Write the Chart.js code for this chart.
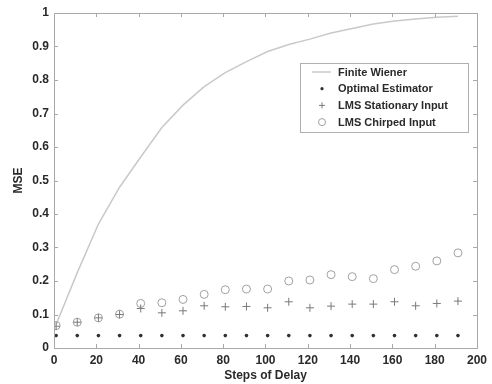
<!DOCTYPE html>
<html><head><meta charset="utf-8">
<script src="https://cdn.jsdelivr.net/npm/chart.js@4/dist/chart.umd.min.js"></script>
<style>html,body{margin:0;padding:0;background:#fff;}#wrap{width:492px;height:384px;}</style>
</head><body><div id="wrap"><canvas id="c" width="492" height="384"></canvas></div>
<script>
const delaySteps = [1, 11, 21, 31, 41, 51, 61, 71, 81, 91, 101, 111, 121, 131, 141, 151, 161, 171, 181, 191];
const finiteWiener = [0.07, 0.225, 0.37, 0.48, 0.57, 0.658, 0.725, 0.78, 0.822, 0.855, 0.885, 0.906, 0.922, 0.94, 0.954, 0.967, 0.976, 0.982, 0.987, 0.99];
const optimalEstimator = [0.037, 0.037, 0.037, 0.037, 0.037, 0.037, 0.037, 0.037, 0.037, 0.037, 0.037, 0.037, 0.037, 0.037, 0.037, 0.037, 0.037, 0.037, 0.037, 0.037];
const lmsStationary = [0.065, 0.077, 0.09, 0.1, 0.118, 0.105, 0.111, 0.126, 0.123, 0.124, 0.12, 0.138, 0.12, 0.125, 0.131, 0.131, 0.138, 0.126, 0.133, 0.14];
const lmsChirped = [0.067, 0.077, 0.09, 0.101, 0.133, 0.135, 0.145, 0.16, 0.174, 0.176, 0.176, 0.2, 0.203, 0.219, 0.213, 0.207, 0.234, 0.244, 0.26, 0.284];
const xTicks = [0, 20, 40, 60, 80, 100, 120, 140, 160, 180, 200];
const yTicks = [0, 0.1, 0.2, 0.3, 0.4, 0.5, 0.6, 0.7, 0.8, 0.9, 1];
const seriesNames = ['Finite Wiener', 'Optimal Estimator', 'LMS Stationary Input', 'LMS Chirped Input'];

const toPts = arr => delaySteps.map((x, i) => ({x: x, y: arr[i]}));
const FONT = 'Liberation Sans, Arial, sans-serif';
const frameColor = '#a8a8a8';

const boxPlugin = {
  id: 'box',
  afterDraw(chart) {
    const ctx = chart.ctx, a = chart.chartArea;
    const xs = chart.scales.x, ys = chart.scales.y;
    ctx.save();
    ctx.strokeStyle = frameColor;
    ctx.lineWidth = 1;
    ctx.strokeRect(Math.round(a.left) + 0.5, Math.round(a.top) + 0.5, Math.round(a.right - a.left), Math.round(a.bottom - a.top));
    ctx.beginPath();
    const tl = 4;
    xTicks.forEach(v => {
      const px = Math.round(xs.getPixelForValue(v)) + 0.5;
      ctx.moveTo(px, a.bottom); ctx.lineTo(px, a.bottom - tl);
      ctx.moveTo(px, a.top); ctx.lineTo(px, a.top + tl);
    });
    yTicks.forEach(v => {
      const py = Math.round(ys.getPixelForValue(v)) + 0.5;
      ctx.moveTo(a.left, py); ctx.lineTo(a.left + tl, py);
      ctx.moveTo(a.right, py); ctx.lineTo(a.right - tl, py);
    });
    ctx.stroke();

    // legend
    const lx = 300, ly = 63, lw = 168, lh = 69;
    ctx.fillStyle = '#fff';
    ctx.fillRect(lx, ly, lw, lh);
    ctx.strokeStyle = '#b0b0b0';
    ctx.strokeRect(lx + 0.5, ly + 0.5, lw, lh);
    ctx.font = 'bold 11px ' + FONT;
    ctx.textBaseline = 'middle';
    ctx.textAlign = 'left';
    chart.data.datasets.forEach((ds, i) => {
      const cy = 72 + i * 16.7;
      const sx = 322;
      ctx.strokeStyle = ds.borderColor;
      ctx.fillStyle = ds.backgroundColor;
      ctx.lineWidth = 1;
      if (i === 0) {
        ctx.beginPath(); ctx.moveTo(312, cy); ctx.lineTo(331, cy); ctx.lineWidth = 1.5; ctx.stroke();
      } else if (ds.pointStyle === 'cross') {
        ctx.beginPath(); ctx.moveTo(sx - 3, cy); ctx.lineTo(sx + 3, cy); ctx.moveTo(sx, cy - 3); ctx.lineTo(sx, cy + 3); ctx.stroke();
      } else if (i === 1) {
        ctx.beginPath(); ctx.arc(sx, cy, 1.6, 0, Math.PI * 2); ctx.fillStyle = ds.pointBackgroundColor; ctx.fill();
      } else {
        ctx.beginPath(); ctx.arc(sx, cy, 3.5, 0, Math.PI * 2); ctx.stroke();
      }
      ctx.fillStyle = '#2a2a2a';
      ctx.fillText(ds.label, 338, cy + 0.5);
    });
    ctx.restore();
  }
};

new Chart(document.getElementById('c'), {
  type: 'scatter',
  data: {
    datasets: [
      {label: seriesNames[0], data: toPts(finiteWiener), showLine: true, borderColor: '#c9c9c9', backgroundColor: '#c9c9c9', borderWidth: 1.5, pointRadius: 0, tension: 0, order: 4},
      {label: seriesNames[1], data: toPts(optimalEstimator), pointStyle: 'circle', pointRadius: 1.8, borderColor: '#303030', backgroundColor: '#303030', pointBackgroundColor: '#303030', pointBorderWidth: 0, order: 1},
      {label: seriesNames[2], data: toPts(lmsStationary), pointStyle: 'cross', pointRadius: 4, borderColor: '#7a7a7a', backgroundColor: '#7a7a7a', pointBorderWidth: 1, order: 2},
      {label: seriesNames[3], data: toPts(lmsChirped), pointStyle: 'circle', pointRadius: 4, borderColor: '#a0a0a0', backgroundColor: 'rgba(0,0,0,0)', pointBorderWidth: 1, order: 3}
    ]
  },
  options: {
    responsive: false,
    animation: false,
    devicePixelRatio: 1,
    layout: {padding: {top: 13, right: 12, left: 0, bottom: 0}},
    plugins: {legend: {display: false}, tooltip: {enabled: false}},
    scales: {
      x: {
        type: 'linear', min: 0, max: 200,
        afterBuildTicks: s => { s.ticks = xTicks.map(v => ({value: v})); },
        afterFit: s => { s.height = 36; },
        grid: {display: false, drawTicks: false},
        border: {display: false},
        ticks: {padding: 5, color: '#2a2a2a', font: {family: FONT, size: 12, weight: 'bold'}, maxRotation: 0, autoSkip: false},
        title: {display: true, text: 'Steps of Delay', color: '#2a2a2a', font: {family: FONT, size: 12, weight: 'bold'}, padding: {top: 0, bottom: 1}}
      },
      y: {
        type: 'linear', min: 0, max: 1,
        afterBuildTicks: s => { s.ticks = yTicks.map(v => ({value: v})); },
        afterFit: s => { s.width = 54; },
        grid: {display: false, drawTicks: false},
        border: {display: false},
        ticks: {padding: 5, color: '#2a2a2a', font: {family: FONT, size: 12, weight: 'bold'}, callback: v => String(Math.round(v * 10) / 10)},
        title: {display: true, text: 'MSE', color: '#2a2a2a', font: {family: FONT, size: 12, weight: 'bold'}, padding: {top: 11, bottom: 0}}
      }
    }
  },
  plugins: [boxPlugin]
});
</script>
</body></html>
